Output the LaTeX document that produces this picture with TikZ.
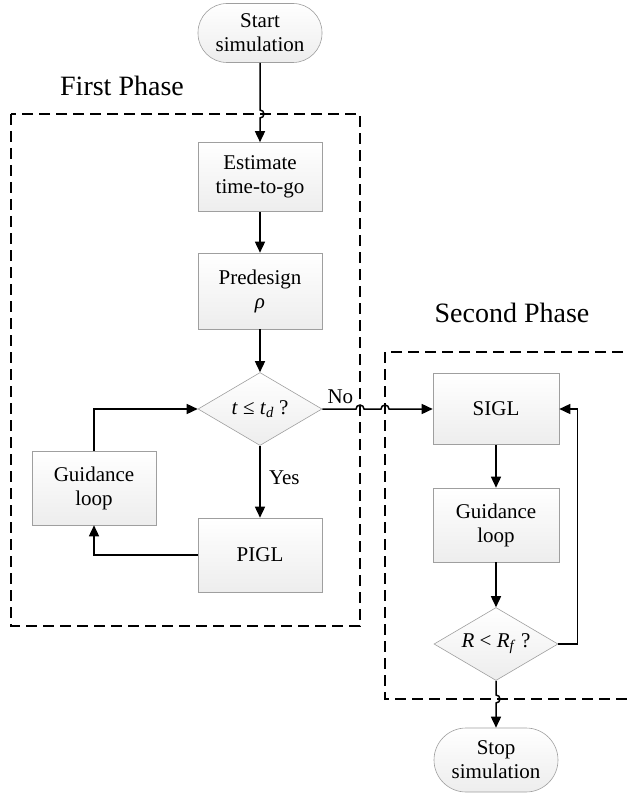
\documentclass[tikz,border=0pt]{standalone}
\usepackage{fontspec}
\setmainfont{Liberation Serif}
\usetikzlibrary{shapes.geometric,arrows.meta,calc}
\begin{document}
\begin{tikzpicture}[x=1pt,y=-1pt,
  box/.style={rectangle, draw=gray!75, line width=0.6pt, top color=white, bottom color=gray!14, minimum width=124pt, minimum height=72pt, align=center, font=\fontsize{21}{24}\selectfont, inner sep=0pt},
  term/.style={box, rounded corners=29pt, minimum height=59pt},
  dia/.style={diamond, shape aspect=1.65, draw=gray!75, line width=0.6pt, top color=white, bottom color=gray!14, minimum width=124pt, minimum height=73pt, inner sep=0pt, font=\fontsize{21}{24}\selectfont},
  arr/.style={line width=1.5pt, -{Triangle[length=11pt,width=10pt]}},
  phase/.style={line width=1.5pt, dash pattern=on 11pt off 6pt},
  lab/.style={font=\fontsize{28}{30}\selectfont},
  small/.style={font=\fontsize{21}{24}\selectfont}
]
\useasboundingbox (0,0) rectangle (628,794);
\clip (0,0) rectangle (628,794);
% phase frames
\draw[phase] (11,114) rectangle (360,626);
\draw[phase] (640,352) -- (385,352) -- (385,699) -- (640,699);
\node[lab] (p1) at (122,86) {First Phase};
\node[lab] (p2) at (512,313) {Second Phase};
% nodes
\node[term] (start) at (260,33) {Start\\simulation};
\node[box, minimum height=69pt] (est) at (260,177) {Estimate\\time-to-go};
\node[box, minimum height=76pt] (pre) at (260,291) {Predesign\\\textit{ρ}};
\node[dia] (d1) at (260,409) {\textit{t} ≤ \textit{t}\textsubscript{\textit{d}} ?};
\node[box, minimum height=74pt] (pigl) at (260,555) {PIGL};
\node[box, minimum height=74pt] (gl1) at (94,488) {Guidance\\loop};
\node[box, minimum width=126pt, minimum height=71pt] (sigl) at (496,409) {SIGL};
\node[box, minimum width=126pt, minimum height=74pt] (gl2) at (496,525) {Guidance\\loop};
\node[dia] (d2) at (496,644) {\textit{R} < \textit{R}\textsubscript{\textit{f}} ?};
\node[term, minimum height=64pt, rounded corners=32pt] (stop) at (496,760) {Stop\\simulation};
% hop points
\coordinate (h1) at (260,114);
\coordinate (h2) at (360,409);
\coordinate (h3) at (385,409);
\coordinate (h4) at (496,699);
% connectors
\draw[arr] (start.south) -- ([yshift=4pt]h1) arc[start angle=90,end angle=-90,radius=4pt] -- (est.north);
\draw[arr] (est.south) -- (pre.north);
\draw[arr] (pre.south) -- (d1.north);
\draw[arr] (d1.south) -- (pigl.north) node[small, pos=0.45, right=5pt] (yes) {Yes};
\draw[arr] (pigl.west) -| (gl1.south);
\draw[arr] (gl1.north) |- (d1.west);
\draw[arr] (d1.east) -- ([xshift=-4pt]h2) arc[start angle=180,end angle=0,radius=4pt] -- ([xshift=-4pt]h3) arc[start angle=180,end angle=0,radius=4pt] -- (sigl.west);
\node[small, anchor=south west, inner sep=0pt] (no) at ($(d1.east)+(5,-5)$) {No};
\draw[arr] (sigl.south) -- (gl2.north);
\draw[arr] (gl2.south) -- (d2.north);
\draw[arr] (d2.east) -- ++(19,0) |- (sigl.east);
\draw[arr] (d2.south) -- ([yshift=4pt]h4) arc[start angle=90,end angle=-90,radius=4pt] -- (stop.north);
\end{tikzpicture}
\end{document}
